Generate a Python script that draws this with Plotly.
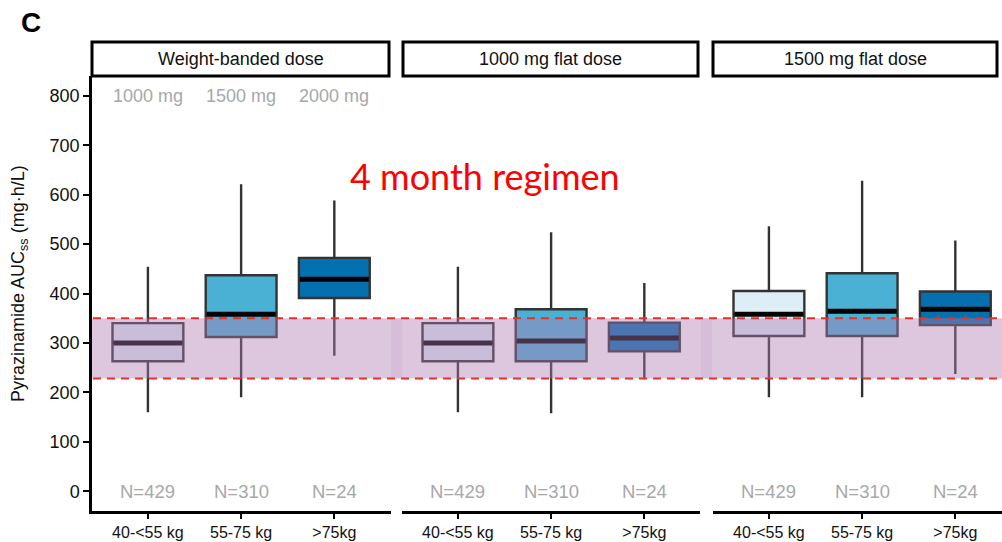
import plotly.graph_objects as go

W, H = 1002, 542

# ---------------- data ----------------
panels = ["Weight-banded dose", "1000 mg flat dose", "1500 mg flat dose"]
categories = ["40-<55 kg", "55-75 kg", ">75kg"]
dose_labels = ["1000 mg", "1500 mg", "2000 mg"]
n_labels = ["N=429", "N=310", "N=24"]
box_colors = ["#deeef6", "#4bb1d4", "#0570b0"]

# per panel, per weight band
lower_whisker = [[160, 190, 274], [160, 158, 227], [190, 190, 237]]
q1_values = [[263, 312, 391], [263, 263, 283], [314, 314, 336]]
median_values = [[300, 358, 429], [300, 304, 310], [358, 364, 368]]
q3_values = [[340, 437, 472], [340, 368, 341], [405, 441, 404]]
upper_whisker = [[454, 621, 588], [454, 524, 421], [536, 628, 507]]

target_low, target_high = 228, 350
y_ticks = [0, 100, 200, 300, 400, 500, 600, 700, 800]

# ---------------- layout geometry ----------------
px = lambda v: v / W
py = lambda v: 1 - v / H
unit = 93.2
dom = [(92, 391), (402, 700), (713, W)]
ydom = [py(511), py(76)]
box_w = 0.76
FONT = "Liberation Sans, Arial, sans-serif"

fig = go.Figure()
for p in range(3):
    xa = "x" if p == 0 else f"x{p+1}"
    ya = "y" if p == 0 else f"y{p+1}"
    for i in range(3):
        xpos = i + 1
        fig.add_trace(go.Box(
            x=[xpos], q1=[q1_values[p][i]], median=[median_values[p][i]],
            q3=[q3_values[p][i]], lowerfence=[lower_whisker[p][i]],
            upperfence=[upper_whisker[p][i]],
            fillcolor=box_colors[i], line=dict(color="#333333", width=2.4),
            whiskerwidth=0, width=box_w, boxpoints=False,
            xaxis=xa, yaxis=ya, showlegend=False, hoverinfo="skip"))
        fig.add_trace(go.Scatter(
            x=[xpos - box_w / 2 + 0.01, xpos + box_w / 2 - 0.01],
            y=[median_values[p][i]] * 2, mode="lines",
            line=dict(color="black", width=5),
            xaxis=xa, yaxis=ya, showlegend=False, hoverinfo="skip"))

layout = dict(
    width=W, height=H, margin=dict(l=0, r=0, t=0, b=0),
    paper_bgcolor="white", plot_bgcolor="white",
    font=dict(family=FONT, color="#1a1a1a"),
)
for p in range(3):
    x0, x1 = dom[p]
    key = "xaxis" if p == 0 else f"xaxis{p+1}"
    ykey = "yaxis" if p == 0 else f"yaxis{p+1}"
    layout[key] = dict(
        domain=[px(x0), px(x1)], range=[0.4, 0.4 + (x1 - x0) / unit],
        anchor="y" if p == 0 else f"y{p+1}",
        tickmode="array", tickvals=[1, 2, 3], ticktext=categories,
        showline=True, linecolor="black", linewidth=2.5,
        ticks="outside", ticklen=5, tickwidth=2, tickcolor="black",
        tickfont=dict(size=16, color="#111"), showgrid=False, zeroline=False,
        fixedrange=True)
    layout[ykey] = dict(
        domain=ydom, range=[-40, 840], showgrid=False, zeroline=False,
        anchor="x" if p == 0 else f"x{p+1}",
        tickmode="array", tickvals=y_ticks,
        showline=(p == 0), linecolor="black", linewidth=2.5,
        ticks="outside" if p == 0 else "", ticklen=6, tickwidth=2, tickcolor="black",
        showticklabels=(p == 0), tickfont=dict(size=18, color="#111"),
        fixedrange=True)
    if p > 0:
        layout[ykey]["matches"] = "y"
fig.update_layout(**layout)

shapes = []
# target band (overlay) across all panels
shapes.append(dict(type="rect", xref="paper", yref="y", x0=px(92), x1=1,
                   y0=target_low, y1=target_high, layer="above",
                   fillcolor="rgba(174,121,177,0.42)", line=dict(width=0)))
# slightly darker seams where the pieces overlapped
for a, b in [(391, 402), (701, 712)]:
    shapes.append(dict(type="rect", xref="paper", yref="y", x0=px(a), x1=px(b),
                       y0=target_low, y1=target_high, layer="above",
                       fillcolor="rgba(174,121,177,0.12)", line=dict(width=0)))
for yv in (target_low, target_high):
    shapes.append(dict(type="line", xref="paper", yref="y", x0=px(93), x1=1,
                       y0=yv, y1=yv, layer="above",
                       line=dict(color="#e8302a", width=2, dash="8px,6px")))
# strips
strip_x = [(92, 389), (403, 698), (713, 997)]
for (a, b) in strip_x:
    shapes.append(dict(type="rect", xref="paper", yref="paper",
                       x0=px(a), x1=px(b), y0=py(76), y1=py(42),
                       fillcolor="white", line=dict(color="black", width=3)))
fig.update_layout(shapes=shapes)

ann = []
for p in range(3):
    a, b = strip_x[p]
    ann.append(dict(xref="paper", yref="paper", x=px((a + b) / 2), y=py(59),
                    text=panels[p], showarrow=False, font=dict(size=18, color="#111"),
                    xanchor="center", yanchor="middle"))
    xa = "x" if p == 0 else f"x{p+1}"
    ya = "y" if p == 0 else f"y{p+1}"
    for i in range(3):
        if p == 0:
            ann.append(dict(xref=xa, yref=ya, x=i + 1, y=800, text=dose_labels[i],
                            showarrow=False, font=dict(size=18, color="#a8a8a8"),
                            xanchor="center", yanchor="middle"))
        ann.append(dict(xref=xa, yref=ya, x=i + 1, y=0, text=n_labels[i],
                        showarrow=False, font=dict(size=18.5, color="#a8a8a8"),
                        xanchor="center", yanchor="middle"))
ann.append(dict(xref="paper", yref="paper", x=px(19), y=py(284),
                text="Pyrazinamide AUC<sub>ss</sub> (mg·h/L)", textangle=-90,
                showarrow=False, font=dict(size=18, color="#111"),
                xanchor="center", yanchor="middle"))
ann.append(dict(xref="paper", yref="paper", x=px(31), y=py(22), text="<b>C</b>",
                showarrow=False, font=dict(size=28, color="black"),
                xanchor="center", yanchor="middle"))
ann.append(dict(xref="paper", yref="paper", x=px(485), y=py(176),
                text="4 month regimen", showarrow=False,
                font=dict(family="Lato, Carlito, sans-serif", size=36, color="#ff0000"),
                xanchor="center", yanchor="middle"))
fig.update_layout(annotations=ann)

fig.write_html("out.html")
